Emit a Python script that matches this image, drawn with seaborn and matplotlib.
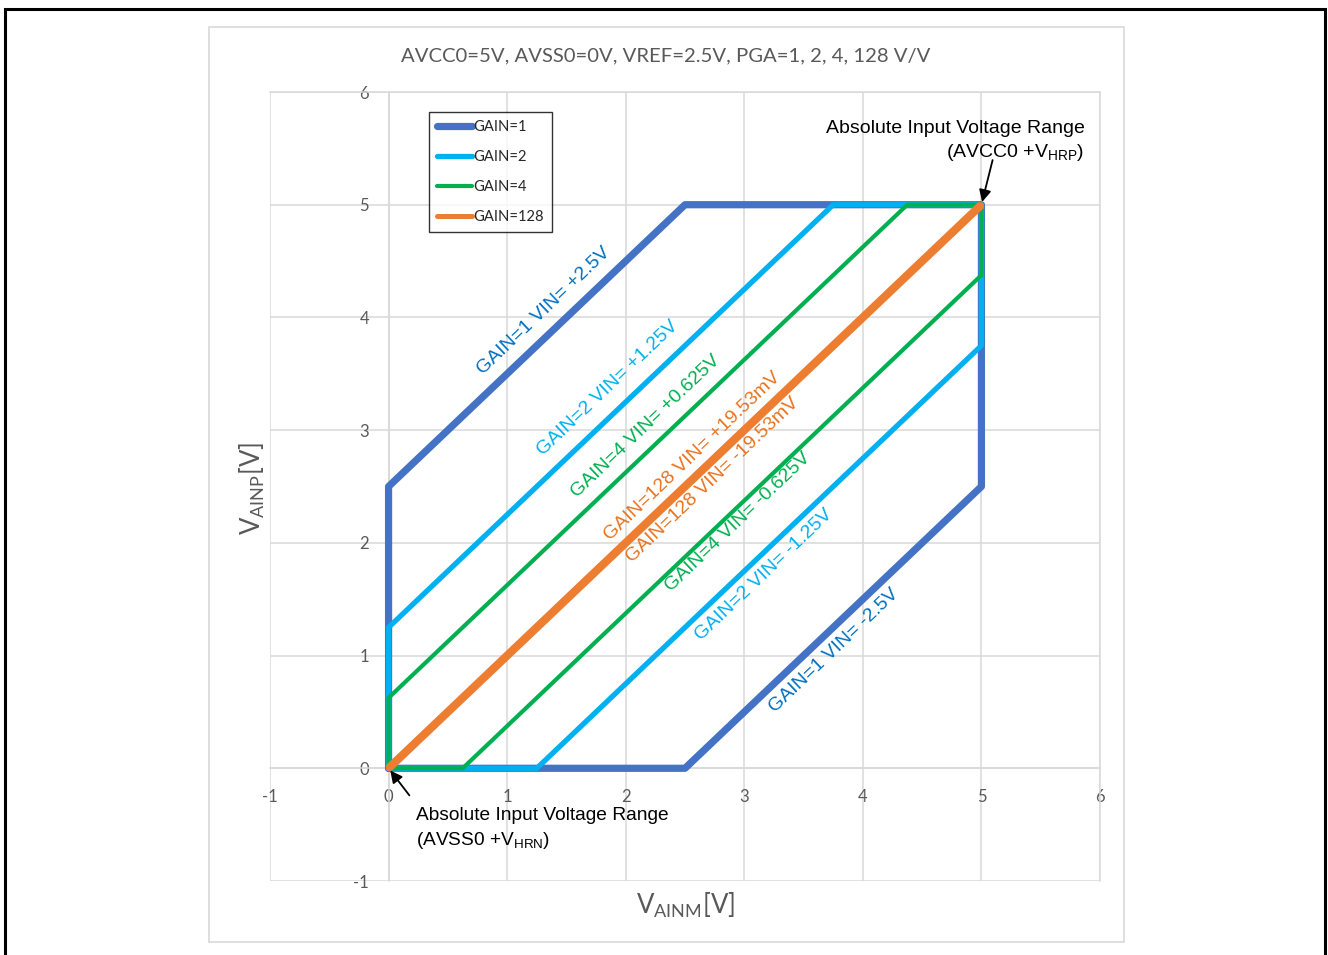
import numpy as np
import pandas as pd
import matplotlib
matplotlib.use('Agg')
import matplotlib.pyplot as plt
import matplotlib.patches as patches
from matplotlib.lines import Line2D
import seaborn as sns

# polygon outlines of the valid input range for each PGA gain
gain1_x = [0, 2.5, 5, 5, 2.5, 0, 0]
gain1_y = [0, 0, 2.5, 5, 5, 2.5, 0]
gain2_x = [0, 1.25, 5, 5, 3.75, 0, 0]
gain2_y = [0, 0, 3.75, 5, 5, 1.25, 0]
gain4_x = [0, 0.625, 5, 5, 4.375, 0, 0]
gain4_y = [0, 0, 4.375, 5, 5, 0.625, 0]
gain128_x = [0, 0.01953, 5, 5, 4.98047, 0, 0]
gain128_y = [0, 0, 4.98047, 5, 5, 0.01953, 0]

series_names = ['GAIN=1', 'GAIN=2', 'GAIN=4', 'GAIN=128']
line_colors = ['#4472C4', '#00B0F0', '#00B050', '#ED7D31']
text_colors = ['#0070C0', '#00B0F0', '#00B050', '#E9731F']
line_widths = [5.2, 3.8, 3.0, 3.6]

# rotated labels along each boundary
diag_labels = ['GAIN=1 VIN= +2.5V', 'GAIN=2 VIN= +1.25V', 'GAIN=4 VIN= +0.625V',
               'GAIN=128 VIN= +19.53mV', 'GAIN=128 VIN= -19.53mV', 'GAIN=4 VIN= -0.625V',
               'GAIN=2 VIN= -1.25V', 'GAIN=1 VIN= -2.5V']
diag_x = [1.31, 1.85, 2.17, 2.56, 2.73, 2.95, 3.17, 3.76]
diag_y = [4.06, 3.37, 3.03, 2.77, 2.56, 2.18, 1.72, 1.04]
diag_color_idx = [0, 1, 2, 3, 3, 2, 1, 0]

ticks = [-1, 0, 1, 2, 3, 4, 5, 6]

sns.set_theme(style='white')
plt.rcParams['font.family'] = ['Lato', 'DejaVu Sans']
plt.rcParams['axes.unicode_minus'] = False
plt.rcParams['mathtext.fontset'] = 'custom'
plt.rcParams['mathtext.rm'] = 'Lato'
plt.rcParams['mathtext.it'] = 'Lato'

fig = plt.figure(figsize=(13.28, 9.55), dpi=100)
ax = fig.add_axes([270 / 1328, 1 - 881 / 955, 830 / 1328, 789 / 955])

xs = [gain1_x, gain2_x, gain4_x, gain128_x]
ys = [gain1_y, gain2_y, gain4_y, gain128_y]
for name, x, y, c, lw in zip(series_names, xs, ys, line_colors, line_widths):
    df = pd.DataFrame({'x': x, 'y': y})
    sns.lineplot(data=df, x='x', y='y', sort=False, estimator=None, color=c,
                 linewidth=lw, ax=ax, solid_joinstyle='round', solid_capstyle='round',
                 legend=False, zorder=3)

ax.set_xlim(-1, 6)
ax.set_ylim(-1, 6)
ax.set_xticks(ticks)
ax.set_yticks(ticks)
ax.grid(True, color='#D9D9D9', linewidth=1.1)
ax.set_axisbelow(True)
for side in ['left', 'bottom']:
    ax.spines[side].set_position(('data', 0))
for sp in ax.spines.values():
    sp.set_color('#D9D9D9')
    sp.set_linewidth(1.1)
    sp.set_zorder(1)
ax.tick_params(axis='both', length=0, labelsize=12, labelcolor='#595959')
ax.tick_params(axis='x', pad=15)
ax.tick_params(axis='y', pad=14)
ax.set_xlabel('')
ax.set_ylabel('')

arial = ['Liberation Sans', 'DejaVu Sans']
for t, x, y, ci in zip(diag_labels, diag_x, diag_y, diag_color_idx):
    ax.text(x, y, t, rotation=45, transform_rotates_text=True, rotation_mode='anchor',
            ha='center', va='center', fontsize=14, family=arial, color=text_colors[ci],
            zorder=4)

# legend
handles = [Line2D([0], [0], color=c, linewidth=lw) for c, lw in zip(line_colors, line_widths)]
leg = ax.legend(handles, series_names, loc='upper left', bbox_to_anchor=(159 / 830, 1 - 20 / 789),
                frameon=True, fancybox=False, fontsize=10.6, handlelength=2.35, handletextpad=0.08,
                labelspacing=1.08, borderpad=0.55, borderaxespad=0)
leg.get_frame().set_edgecolor('black')
leg.get_frame().set_linewidth(1.0)
leg.set_zorder(5)

# arrow annotations
ax.annotate('', xy=(5, 5), xytext=(5.1, 5.42),
            arrowprops=dict(arrowstyle='-|>', color='black', lw=1.3, mutation_scale=18))
ax.text(5.87, 5.675, 'Absolute Input Voltage Range', ha='right', va='center',
        fontsize=14, family=arial, color='black')
ax.text(5.87, 5.46, r'(AVCC0 +V$_{\mathregular{HRP}}$)', ha='right', va='center',
        fontsize=14, family=arial, color='black')
ax.annotate('', xy=(0.0, 0.0), xytext=(0.19, -0.26),
            arrowprops=dict(arrowstyle='-|>', color='black', lw=1.3, mutation_scale=18))
ax.text(0.23, -0.42, 'Absolute Input Voltage Range', ha='left', va='center',
        fontsize=13.8, family=arial, color='black')
ax.text(0.23, -0.64, r'(AVSS0 +V$_{\mathregular{HRN}}$)', ha='left', va='center',
        fontsize=13.8, family=arial, color='black')

# title and axis titles
fig.text(666 / 1328, 1 - 56 / 955, 'AVCC0=5V, AVSS0=0V, VREF=2.5V, PGA=1, 2, 4, 128 V/V',
         ha='center', va='center', fontsize=14.6, color='#595959')
fig.text(685 / 1328, 1 - 905 / 955, r'V$_{\mathregular{AINM}}$[V]', ha='center', va='center',
         fontsize=18.5, color='#595959')
fig.text(252 / 1328, 1 - 488 / 955, r'V$_{\mathregular{AINP}}$[V]', ha='center', va='center',
         rotation=90, fontsize=18.5, color='#595959')

# chart frame and outer page border
fig.patches.append(patches.Rectangle((209 / 1328, 1 - 942 / 955), 915 / 1328, 915 / 955,
                                     transform=fig.transFigure, fill=False,
                                     edgecolor='#D9D9D9', linewidth=1.2))
fig.patches.append(patches.Rectangle((5 / 1328, -0.05), 1320 / 1328, 1.05 - 9.5 / 955,
                                     transform=fig.transFigure, fill=False,
                                     edgecolor='black', linewidth=2.2))

fig.savefig('out.png', dpi=100)
